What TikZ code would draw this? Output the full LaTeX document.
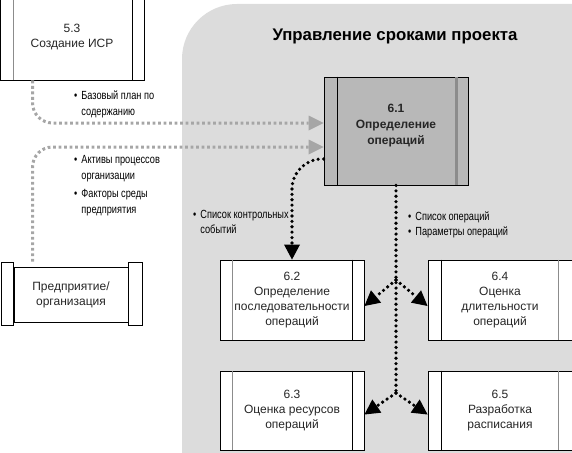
\documentclass[tikz,border=0pt]{standalone}
\usepackage{fontspec}
\setmainfont{Liberation Sans}
\newfontfamily\labfont[FakeStretch=0.78]{Liberation Sans}
\usetikzlibrary{arrows.meta,calc}
\definecolor{bggray}{HTML}{DCDCDC}
\definecolor{boxgray}{HTML}{B8B8B8}
\definecolor{dotgray}{HTML}{A6A6A6}
\definecolor{linegray}{HTML}{8C8C8C}
\begin{document}
\begin{tikzpicture}[x=1pt,y=-1pt,
  box/.style={draw=black, line width=0.9pt, fill=white, minimum width=144pt, inner sep=0pt, align=center, font=\fontsize{12}{15.2}\selectfont, text=black!85},
  glines/.style={draw=linegray, line width=1.6pt},
  blines/.style={draw=black, line width=0.9pt},
  graydot/.style={draw=dotgray, line width=3pt, dash pattern=on 2.8pt off 2.7pt, -{Triangle[length=15pt,width=15pt,line width=0pt,fill=dotgray]}},
  blackline/.style={draw=black, line width=3.6pt, line cap=round, dash pattern=on 0pt off 5.4pt},
  blackdot/.style={blackline, -{Triangle[length=15pt,width=16pt,line width=0pt]}},
  lab/.style={anchor=west, inner sep=0pt, font=\labfont\fontsize{11.8}{15.5}\selectfont, align=left},
]
\useasboundingbox (0,0) rectangle (572,452);
% background region
\fill[bggray] (600,480) -- (182,480) [rounded corners=55pt]-- (182,4) [sharp corners]-- (600,4) -- cycle;
\node[font=\bfseries\fontsize{16.8}{20}\selectfont] (title) at (395,36) {Управление сроками проекта};

% boxes
\node[box, minimum height=86pt] (n53) at (72,37) {5.3\\Создание ИСР};
\draw[glines] ([xshift=14pt]n53.north west) -- ([xshift=14pt]n53.south west);
\draw[blines] ([xshift=-12pt]n53.north east) -- ([xshift=-12pt]n53.south east);

\node[box, minimum height=108pt, fill=boxgray] (n61) at (396,131) {};
\draw[blines] ([xshift=14pt]n61.north west) -- ([xshift=14pt]n61.south west);
\draw[glines, line width=2.2pt] ([xshift=-12pt]n61.north east) -- ([xshift=-12pt]n61.south east);
\node[align=center, font=\bfseries\fontsize{12}{16}\selectfont, text=black!85] (t61) at ([yshift=5pt]n61.center) {6.1\\Определение\\операций};

\node[box, minimum height=80pt] (n62) at (292,300) {6.2\\Определение\\последовательности\\операций};
\draw[glines] ([xshift=13pt]n62.north west) -- ([xshift=13pt]n62.south west);
\draw[blines] ([xshift=-12pt]n62.north east) -- ([xshift=-12pt]n62.south east);

\node[box, minimum height=80pt] (n64) at (500,300) {6.4\\Оценка\\длительности\\операций};
\draw[blines] ([xshift=14pt]n64.north west) -- ([xshift=14pt]n64.south west);
\draw[glines] ([xshift=-14pt]n64.north east) -- ([xshift=-14pt]n64.south east);

\node[box, minimum height=79pt] (n63) at (292,410.5) {6.3\\Оценка ресурсов\\операций};
\draw[glines] ([xshift=13pt]n63.north west) -- ([xshift=13pt]n63.south west);
\draw[blines] ([xshift=-12pt]n63.north east) -- ([xshift=-12pt]n63.south east);

\node[box, minimum height=79pt] (n65) at (500,410.5) {6.5\\Разработка\\расписания};
\draw[blines] ([xshift=14pt]n65.north west) -- ([xshift=14pt]n65.south west);
\draw[glines] ([xshift=-14pt]n65.north east) -- ([xshift=-14pt]n65.south east);

\node[box, minimum width=114pt, minimum height=55pt] (nEnt) at (71,294.5) {Предприятие/\\организация};
\draw[blines, fill=white] ([shift={(-12pt,4pt)}]nEnt.north west) rectangle ([shift={(0pt,-3pt)}]nEnt.south west);
\draw[blines, fill=white] ([shift={(0pt,4pt)}]nEnt.north east) rectangle ([shift={(14pt,-3pt)}]nEnt.south east);

% gray connectors
\draw[graydot, rounded corners=20pt] ([xshift=33pt]n53.south west) |- ([yshift=8pt]n61.west);
\draw[graydot, rounded corners=20pt] ([shift={(19pt,5pt)}]nEnt.north west) |- ([yshift=-16pt]n61.west);

% black connectors
\draw[blackdot, rounded corners=30pt] ([yshift=-28pt]n61.west) -| (n62.north);
\coordinate (s1) at (396,280);
\coordinate (s2) at (396,393);
\draw[blackline] (n61.south) -- (s2);
\draw[blackdot] (s1) -- ([yshift=-6pt]n62.east);
\draw[blackdot] (s1) -- ([yshift=-6pt]n64.west);
\draw[blackdot] (s2) -- ([yshift=-4pt]n63.east);
\draw[blackdot] (s2) -- ([yshift=-4pt]n65.west);

% labels
\node[lab] (l1) at (74,104.5) {\begin{tabular}{@{}l@{\hspace{4pt}}l@{}}•&Базовый план по\\&содержанию\end{tabular}};
\node[lab] (l2) at (74,185.5) {\begin{tabular}{@{}l@{\hspace{4pt}}l@{}}•&Активы процессов\\&организации\\[3pt]•&Факторы среды\\&предприятия\end{tabular}};
\node[lab] (l3) at (193,223) {\begin{tabular}{@{}l@{\hspace{4pt}}l@{}}•&Список контрольных\\&событий\end{tabular}};
\node[lab] (l4) at (408,225) {\begin{tabular}{@{}l@{\hspace{4pt}}l@{}}•&Список операций\\•&Параметры операций\end{tabular}};
\end{tikzpicture}
\end{document}
